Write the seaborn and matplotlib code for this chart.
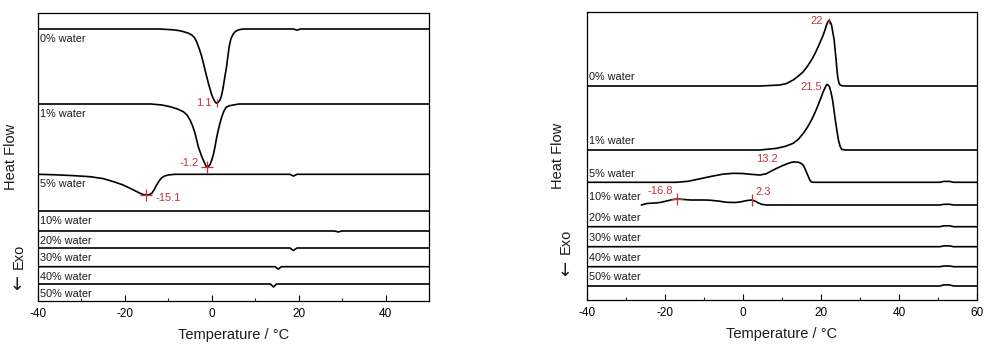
import numpy as np
import pandas as pd
import matplotlib
matplotlib.use("Agg")
import matplotlib.pyplot as plt
from matplotlib.ticker import MultipleLocator
import seaborn as sns

# ---------------- cooling scans (left panel) ----------------
cool_samples = ["0% water", "1% water", "5% water", "10% water",
                "20% water", "30% water", "40% water", "50% water"]
# vertical stacking of each trace (arbitrary heat-flow units)
cool_offsets = [272, 197, 126.7, 90.3, 70, 53, 34.3, 17]

cool_T_0 = [-40, -12, -9, -7.5, -6.5, -5.5, -4.6, -4.0, -3.5, -2.9, -2.3, -1.55, -0.8,
            0.0, 0.45, 0.8, 1.1, 1.45, 1.9, 2.3, 2.65, 3.0, 3.4, 4.0, 4.4, 4.8, 5.2,
            5.7, 6.4, 7.3, 18.8, 19.6, 20.4, 50]
cool_hf_0 = [0, 0, -0.8, -1.6, -2.7, -4, -6, -8.5, -12.7, -19.5, -27.7, -41, -54,
             -66, -70.5, -73.2, -74.3, -73.5, -71, -65.5, -57.7, -48, -37.7, -17.7, -10, -6, -3.5,
             -1.7, -0.6, 0, 0, -1.2, 0, 0]

cool_T_1 = [-40, -14, -11.5, -9.6, -8, -6.55, -5.7, -5.0, -4.4, -3.85, -3.1, -2.3, -1.55,
            -1.2, -0.8, -0.4, 0.0, 0.4, 0.75, 1.1, 1.5, 1.9, 2.3, 2.8, 3.3, 4.0, 5.0, 6.2, 50]
cool_hf_1 = [0, 0, -1, -2.7, -4.8, -7.7, -11, -16, -22, -29.3, -42.7, -52.7, -60,
             -63, -62.7, -60.5, -56, -50, -42.7, -34, -26, -19, -12.7, -7, -3.3, -1.8, -1, 0, 0]

cool_T_5 = [-40, -36, -32, -28, -25, -22.6, -20.5, -18.8, -17.5, -16.5, -15.8, -15.1,
            -14.4, -13.8, -13.2, -12.7, -12.1, -11.5, -10.8, -10, -8.5, 18.0, 18.8, 19.6, 50]
cool_hf_5 = [0, -0.5, -1.3, -2.4, -4.3, -7.4, -10.5, -14, -16.8, -19, -20.2, -20.7,
             -20.3, -19, -15, -10.7, -6.5, -3.4, -1.6, -0.7, 0, 0, -1.8, 0, 0]

cool_T_10 = [-40, 50]
cool_hf_10 = [0, 0]
cool_T_20 = [-40, 28.3, 29.1, 29.9, 50]
cool_hf_20 = [0, 0, -1, 0, 0]
cool_T_30 = [-40, 18.0, 18.8, 19.6, 50]
cool_hf_30 = [0, 0, -2.5, 0, 0]
cool_T_40 = [-40, 14.6, 15.3, 16.0, 50]
cool_hf_40 = [0, 0, -2.5, 0, 0]
cool_T_50 = [-40, 13.5, 14.2, 14.9, 50]
cool_hf_50 = [0, 0, -3, 0, 0]

cool_peak_T = [1.1, -1.2, -15.1]
cool_peak_sample = [0, 1, 2]

# ---------------- heating scans (right panel) ----------------
heat_samples = cool_samples
heat_offsets = [214, 150, 117.7, 95, 73.3, 53.3, 33.3, 14]

heat_T_0 = [-40, 4.4, 9.5, 11.2, 12.9, 14.2, 15.5, 16.6, 17.6, 18.5, 19.3, 20.0, 20.6,
            21.1, 21.4, 21.7, 22.0, 22.3, 22.7, 23.05, 23.4, 23.65, 23.9, 24.1, 24.3,
            24.6, 24.9, 25.5, 26.6, 60]
heat_hf_0 = [0, 0, 1, 2.5, 6, 9.8, 14.3, 20, 26, 32.5, 39.3, 45.5, 51,
             56.5, 60.5, 63.5, 65.3, 64.8, 61.5, 54, 46, 36, 26, 17, 9.3,
             3.5, 1, 0.2, 0, 0]

heat_T_1 = [-40, 4.4, 8.7, 11, 12.9, 14.3, 15.5, 16.6, 17.6, 18.5, 19.3, 20.0, 20.6,
            21.1, 21.5, 21.9, 22.2, 22.6, 23.0, 23.35, 23.7, 24.1, 24.5, 24.9, 25.3,
            26, 27, 60]
heat_hf_1 = [0, 0, 1.7, 3.8, 6.7, 11, 16.7, 23, 30, 37.5, 45, 52, 58.3,
             62.5, 65.5, 64.8, 63.3, 57.5, 50, 40, 30, 19.5, 10, 4, 0.7,
             0.1, 0, 0]

heat_T_5 = [-40, -17, -14, -11, -8, -5, -2.4, 0, 2, 4.4, 6, 7.8, 9.5, 11.2, 12.3, 13.2,
            14.3, 15.0, 15.6, 16.2, 16.8, 17.2, 17.6, 18.2, 50.5, 51.5, 53, 54, 60]
heat_hf_5 = [0, 0, 1, 3.5, 6, 8.2, 9, 8.8, 8, 7.3, 8.5, 12.3, 15.5, 18.3, 19.8, 20.4,
             20, 18.8, 16.5, 11, 5.6, 2, 0.3, 0, 0, 0.9, 0.9, 0, 0]

heat_T_10 = [-26, -24.6, -22.5, -21.2, -19.5, -18.2, -16.8, -15, -13.5, -10, -8.4, -6,
             -4.1, -2, -0.7, 0.8, 2.3, 3.2, 4.0, 4.8, 6.1, 50.5, 51.5, 53, 54, 60]
heat_hf_10 = [0, 1.5, 2, 2.5, 4, 5.3, 6, 5.5, 5, 5, 4.8, 3.8,
              2.7, 2.5, 3, 4.3, 5, 3.8, 2, 0.7, 0, 0, 0.7, 0.7, 0, 0]

heat_T_20 = [-40, 50.5, 51.5, 53, 54, 60]
heat_hf_20 = [0, 0, 0.9, 0.9, 0, 0]
heat_T_30 = [-40, 50.5, 51.5, 53, 54, 60]
heat_hf_30 = [0, 0, 0.8, 0.8, 0, 0]
heat_T_40 = [-40, 50.5, 51.5, 53, 54, 60]
heat_hf_40 = [0, 0, 0.7, 0.7, 0, 0]
heat_T_50 = [-40, 50.5, 51.5, 53, 54, 60]
heat_hf_50 = [0, 0, 1.1, 1.1, 0, 0]

heat_peak_T = [22, 21.5, 13.2, -16.8, 2.3]
heat_peak_sample = [0, 1, 2, 3, 3]

cool_T = [cool_T_0, cool_T_1, cool_T_5, cool_T_10, cool_T_20, cool_T_30, cool_T_40, cool_T_50]
cool_hf = [cool_hf_0, cool_hf_1, cool_hf_5, cool_hf_10, cool_hf_20, cool_hf_30, cool_hf_40, cool_hf_50]
heat_T = [heat_T_0, heat_T_1, heat_T_5, heat_T_10, heat_T_20, heat_T_30, heat_T_40, heat_T_50]
heat_hf = [heat_hf_0, heat_hf_1, heat_hf_5, heat_hf_10, heat_hf_20, heat_hf_30, heat_hf_40, heat_hf_50]


def stacked_frame(samples, offsets, temps, flows):
    parts = []
    for name, off, t, h in zip(samples, offsets, temps, flows):
        parts.append(pd.DataFrame({"sample": name,
                                   "temp": t,
                                   "hf": off + np.asarray(h, dtype=float)}))
    return pd.concat(parts, ignore_index=True)


sns.set_style("ticks")
plt.rcParams["font.family"] = ["Liberation Sans", "DejaVu Sans"]
plt.rcParams["axes.unicode_minus"] = False

RED = "#c4343c"
TXT = "#1a1a1a"

fig = plt.figure(figsize=(9.84, 3.45), dpi=100)
W, H = 984, 345
ax_c = fig.add_axes([38 / W, 44 / H, 391 / W, 288 / H])
ax_h = fig.add_axes([586.7 / W, 45 / H, 390.3 / W, 288 / H])


def style_axes(ax, xmin, xmax):
    ax.set_xlim(xmin, xmax)
    ax.set_ylim(0, 288)
    ax.set_yticks([])
    ax.xaxis.set_major_locator(MultipleLocator(20))
    ax.xaxis.set_minor_locator(MultipleLocator(10))
    ax.tick_params(axis="x", which="major", direction="in", length=4, width=0.8,
                   labelsize=8.5, pad=5, colors="black")
    ax.tick_params(axis="x", which="minor", direction="in", length=2.2, width=0.8)
    for s in ax.spines.values():
        s.set_visible(True)
        s.set_linewidth(0.9)
        s.set_color("black")
    ax.set_xlabel("Temperature / °C", fontsize=10.5, labelpad=6, color=TXT)
    ax.set_ylabel("Heat Flow", fontsize=10.5, color=TXT)


def exo_label(ax, x, y_word, y_arrow):
    ax.text(x, y_word, "Exo", rotation=90, transform=ax.transAxes,
            ha="center", va="center", fontsize=10.5, color=TXT)
    ax.text(x, y_arrow, "←", rotation=90, transform=ax.transAxes,
            ha="center", va="center", fontsize=13, color=TXT,
            family=["DejaVu Sans"])


# ---- left: cooling ----
df_c = stacked_frame(cool_samples, cool_offsets, cool_T, cool_hf)
sns.lineplot(data=df_c, x="temp", y="hf", units="sample", estimator=None,
             sort=False, color="black", lw=1.2, ax=ax_c, legend=False)
style_axes(ax_c, -40, 50)
ax_c.yaxis.set_label_coords(-0.052, 0.5)
exo_label(ax_c, -0.050, 0.155, 0.066)

for name, off in zip(cool_samples, cool_offsets):
    ax_c.annotate(name, xy=(-40, off), xytext=(2.5, -10), textcoords="offset pixels",
                  ha="left", va="center", fontsize=7.8, color=TXT)

cool_marks = [("|", (-5, 0), "right", 6), ("+", (-8, 4), "right", 8), ("+", (9, -3), "left", 8)]
for T, k, (mk, dxy, ha, ms) in zip(cool_peak_T, cool_peak_sample, cool_marks):
    y = cool_offsets[k] + np.interp(T, cool_T[k], cool_hf[k])
    ax_c.plot([T], [y], marker=mk, color=RED, ms=ms, mew=0.9, ls="none")
    ax_c.annotate(f"{T:g}", xy=(T, y), xytext=dxy, textcoords="offset pixels",
                  ha=ha, va="center", fontsize=8, color=RED)

# ---- right: heating ----
df_h = stacked_frame(heat_samples, heat_offsets, heat_T, heat_hf)
sns.lineplot(data=df_h, x="temp", y="hf", units="sample", estimator=None,
             sort=False, color="black", lw=1.2, ax=ax_h, legend=False)
style_axes(ax_h, -40, 60)
ax_h.yaxis.set_label_coords(-0.056, 0.5)
exo_label(ax_h, -0.054, 0.203, 0.108)

for name, off in zip(heat_samples, heat_offsets):
    ax_h.annotate(name, xy=(-40, off), xytext=(2.5, 8.5), textcoords="offset pixels",
                  ha="left", va="center", fontsize=7.8, color=TXT)

heat_marks = [("|", (-6, 0), "right", 5), ("|", (-5, -3), "right", 0),
              (None, (-16, 3), "right", 0), ("+", (-4, 8), "right", 8),
              ("|", (4, 8), "left", 8)]
for T, k, (mk, dxy, ha, ms) in zip(heat_peak_T, heat_peak_sample, heat_marks):
    y = heat_offsets[k] + np.interp(T, heat_T[k], heat_hf[k])
    if mk is not None and ms > 0:
        ax_h.plot([T], [y], marker=mk, color=RED, ms=ms, mew=0.9, ls="none")
    ax_h.annotate(f"{T:g}", xy=(T, y), xytext=dxy, textcoords="offset pixels",
                  ha=ha, va="center", fontsize=8, color=RED)

fig.savefig("out.png", dpi=100)
